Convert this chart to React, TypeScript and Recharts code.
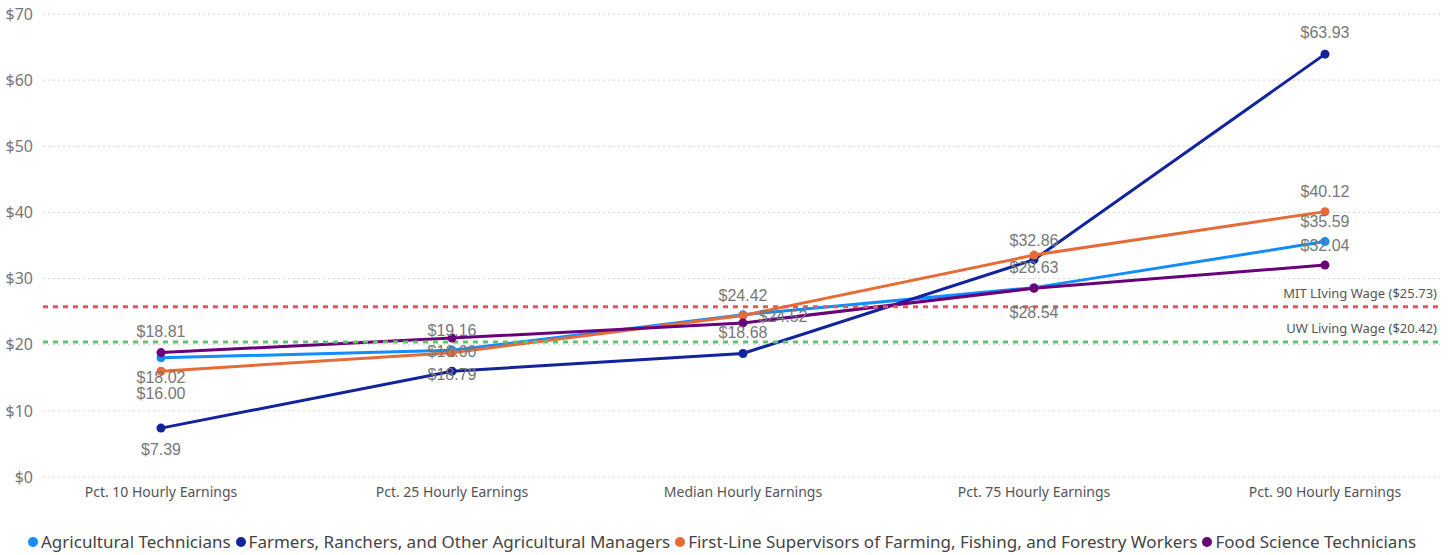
import { CartesianGrid, LabelList, Line, LineChart, ReferenceLine, XAxis, YAxis } from "recharts";

const categories = [
  "Pct. 10 Hourly Earnings",
  "Pct. 25 Hourly Earnings",
  "Median Hourly Earnings",
  "Pct. 75 Hourly Earnings",
  "Pct. 90 Hourly Earnings",
];

const agTech = [18.02, 19.16, 24.52, 28.63, 35.59];
const farmers = [7.39, 16.0, 18.68, 32.86, 63.93];
const supervisors = [16.0, 18.79, 24.42, 33.55, 40.12];
const foodSci = [18.81, 21.0, 23.3, 28.54, 32.04];

const yTicks = [0, 10, 20, 30, 40, 50, 60, 70];

const mitWage = 25.73;
const uwWage = 20.42;

const series = [
  { key: "agTech", name: "Agricultural Technicians", color: "#118DFF", values: agTech },
  { key: "farmers", name: "Farmers, Ranchers, and Other Agricultural Managers", color: "#12239E", values: farmers },
  { key: "supervisors", name: "First-Line Supervisors of Farming, Fishing, and Forestry Workers", color: "#E66C37", values: supervisors },
  { key: "foodSci", name: "Food Science Technicians", color: "#6B007B", values: foodSci },
];

// where each data label sits relative to its point ([dx, dy]), null = label hidden (overlap)
const labelOffsets: Record<string, Array<[number, number] | null>> = {
  agTech: [[0, 20], [0, -20], [40, 2], [0, -20], [0, -20]],
  farmers: [[0, 21], [0, -20], [0, -21], [0, -19], [0, -22]],
  supervisors: [[0, 22], [0, 22], [0, -20], null, [0, -20]],
  foodSci: [[0, -21], null, null, [0, 24], [0, -20]],
};

const data = categories.map((c, i) => {
  const row: Record<string, string | number> = { category: c };
  series.forEach((s) => (row[s.key] = s.values[i]));
  return row;
});

const uiFont = "'Segoe UI', 'Noto Sans', sans-serif";

function makeLabel(key: string) {
  return (props: any) => {
    const { x, y, value, index } = props;
    const off = labelOffsets[key][index];
    if (!off) return null;
    return (
      <text
        x={x + off[0]}
        y={y + off[1]}
        textAnchor="middle"
        dominantBaseline="central"
        fontFamily="'Liberation Sans', Arial, sans-serif"
        fontSize={16}
        fill="#777"
      >
        ${Number(value).toFixed(2)}
      </text>
    );
  };
}

function refLabel(text: string) {
  return (props: any) => {
    const vb = props.viewBox;
    return (
      <text
        x={vb.x + vb.width - 3}
        y={vb.y - 9}
        textAnchor="end"
        fontFamily={uiFont}
        fontSize={13}
        fill="#555"
      >
        {text}
      </text>
    );
  };
}

export default function App() {
  return (
    <div style={{ position: "absolute", left: 0, top: 0, width: 1455, height: 555, background: "#fff" }}>
      <LineChart width={1455} height={510} data={data} margin={{ top: 14, right: 15, left: 0, bottom: 0 }}>
        <CartesianGrid vertical={false} stroke="#d6d6d6" strokeDasharray="2 3" />
        <XAxis
          dataKey="category"
          axisLine={false}
          tickLine={false}
          height={33}
          interval={0}
          padding={{ left: 118, right: 115 }}
          tickMargin={4}
          tick={{ fontSize: 14, fill: "#555", fontFamily: uiFont }}
        />
        <YAxis
          width={43}
          domain={[0, 70]}
          ticks={yTicks}
          axisLine={false}
          tickLine={false}
          tickMargin={4}
          tickFormatter={(v) => `$${v}`}
          tick={{ fontSize: 16, fill: "#777", fontFamily: uiFont }}
        />
        {series.map((s) => (
          <Line
            key={s.key}
            dataKey={s.key}
            name={s.name}
            stroke={s.color}
            strokeWidth={3}
            dot={{ r: 4.5, fill: s.color, stroke: "none" }}
            activeDot={false}
            isAnimationActive={false}
          >
            <LabelList dataKey={s.key} content={makeLabel(s.key)} />
          </Line>
        ))}
        <ReferenceLine
          y={mitWage}
          stroke="#E05A5A"
          strokeWidth={3}
          strokeDasharray="5 5"
          label={refLabel(`MIT LIving Wage ($${mitWage})`)}
        />
        <ReferenceLine
          y={uwWage}
          stroke="#5CC46A"
          strokeWidth={3}
          strokeDasharray="5 5"
          label={refLabel(`UW Living Wage ($${uwWage})`)}
        />
      </LineChart>
      <div
        style={{
          position: "absolute",
          left: 28,
          top: 531,
          display: "flex",
          alignItems: "center",
          fontFamily: uiFont,
          fontSize: 17,
          color: "#444",
          whiteSpace: "nowrap",
          lineHeight: "22px",
        }}
      >
        {series.map((s) => (
          <span key={s.key} style={{ display: "inline-flex", alignItems: "center", marginRight: 5 }}>
            <span
              style={{
                display: "inline-block",
                width: 10,
                height: 10,
                borderRadius: 5,
                background: s.color,
                marginRight: 3,
              }}
            />
            {s.name}
          </span>
        ))}
      </div>
    </div>
  );
}
